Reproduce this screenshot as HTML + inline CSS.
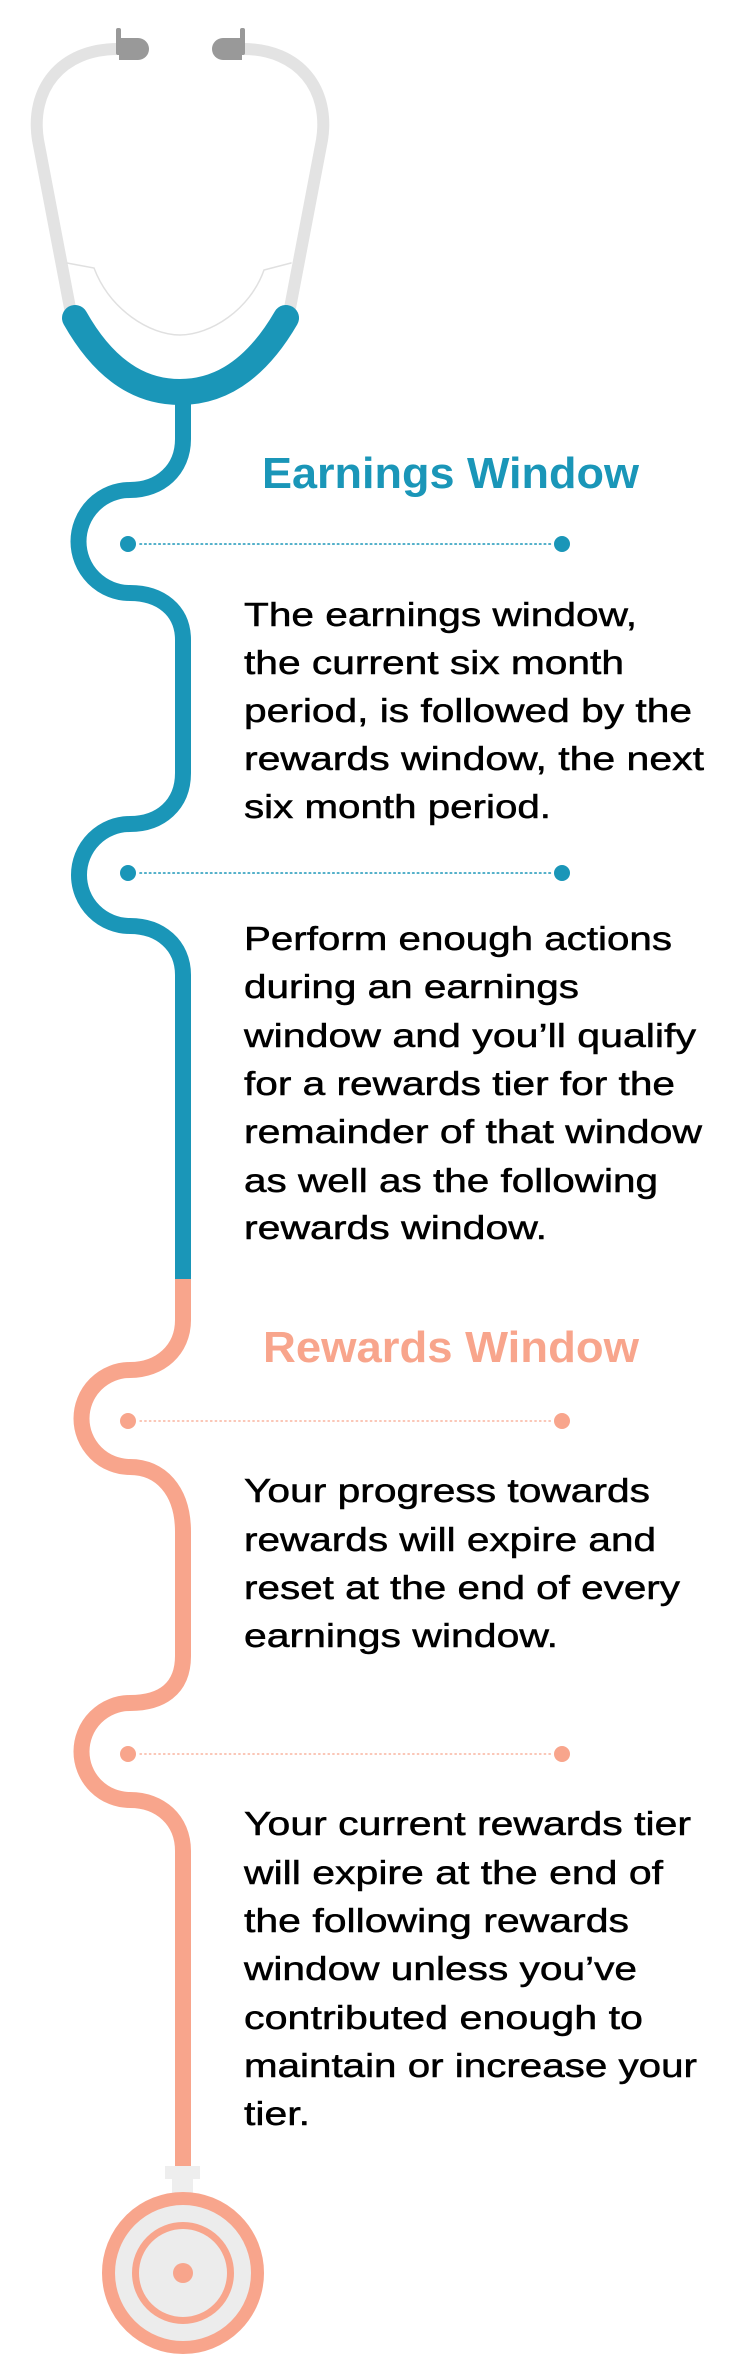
<!DOCTYPE html>
<html><head><meta charset="utf-8"><style>html,body{margin:0;padding:0;background:#fff}svg{display:block}</style></head>
<body>
<svg width="750" height="2380" viewBox="0 0 750 2380" xmlns="http://www.w3.org/2000/svg">
<g fill="none" stroke-linecap="round">
<path d="M118,49 C60,49 30,90 38,140 L70,308" stroke="#e3e3e3" stroke-width="12"/>
<path d="M243,49 C300,49 330,90 322,140 L290,308" stroke="#e3e3e3" stroke-width="12"/>
<path d="M67,263 L94,268 C110,310 150,335 180,335 C210,335 250,310 264,270 L291,263" stroke="#e0e0e0" stroke-width="1.5"/>
<path d="M75,318 C110,380 150,392 180,392 C210,392 250,380 286,318" stroke="#1a96b8" stroke-width="26"/>
<path d="M183,400 V439 C183,470 160,490 130,490 A51.5,51.5 0 0 0 130,593 C160,593 183,610 183,640 V773 C183,805 160,824 130,824 A51,51 0 0 0 130,926 C160,926 183,945 183,975 V1279" stroke="#1a96b8" stroke-width="16" stroke-linecap="butt"/>
<path d="M183,1279 V1320 C183,1350 160,1370 130,1370 A48.5,48.5 0 0 0 130,1467 C160,1467 183,1490 183,1532 V1656 C183,1690 160,1703 130,1703 A48.5,48.5 0 0 0 130,1800 C160,1800 183,1820 183,1851 V2170" stroke="#f8a58c" stroke-width="16" stroke-linecap="butt"/>
<line x1="140" y1="544" x2="552" y2="544" stroke="#1a96b8" stroke-width="1.6" stroke-dasharray="1.5 3.2"/>
<line x1="140" y1="873" x2="552" y2="873" stroke="#1a96b8" stroke-width="1.6" stroke-dasharray="1.5 3.2"/>
<line x1="140" y1="1421" x2="552" y2="1421" stroke="#f8a58c" stroke-width="1.2" stroke-dasharray="1.5 3.2"/>
<line x1="140" y1="1754" x2="552" y2="1754" stroke="#f8a58c" stroke-width="1.2" stroke-dasharray="1.5 3.2"/>
</g>
<g fill="#999">
<rect x="116" y="28" width="5" height="27" rx="2"/>
<path d="M119,38 H138 A11,11 0 0 1 138,60 H119 Z"/>
<rect x="240" y="28" width="5" height="27" rx="2"/>
<path d="M242,38 H223 A11,11 0 0 0 223,60 H242 Z"/>
</g>
<g fill="#1a96b8"><circle cx="128" cy="544" r="8"/><circle cx="562" cy="544" r="8"/><circle cx="128" cy="873" r="8"/><circle cx="562" cy="873" r="8"/></g>
<g fill="#f8a58c"><circle cx="128" cy="1421" r="8"/><circle cx="562" cy="1421" r="8"/><circle cx="128" cy="1754" r="8"/><circle cx="562" cy="1754" r="8"/></g>
<rect x="165" y="2166" width="35" height="13" fill="#eeeeee"/>
<rect x="172" y="2178" width="21" height="16" fill="#eeeeee"/>
<circle cx="183" cy="2273" r="74.5" fill="#ececec" stroke="#f8a58c" stroke-width="13"/>
<circle cx="183" cy="2273" r="47.5" fill="none" stroke="#f8a58c" stroke-width="7"/>
<circle cx="183" cy="2273" r="10" fill="#f8a58c"/>
<g font-family="Liberation Sans, sans-serif" font-weight="bold" font-size="44">
<text x="262" y="488" fill="#1a96b8" textLength="377" lengthAdjust="spacingAndGlyphs">Earnings Window</text>
<text x="263" y="1362" fill="#f8a58c" textLength="376" lengthAdjust="spacingAndGlyphs">Rewards Window</text>
</g>
<g font-family="Liberation Sans, sans-serif" font-size="33" fill="#000" stroke="#000" stroke-width="0.5">
<text x="244" y="626" textLength="393" lengthAdjust="spacingAndGlyphs">The earnings window,</text>
<text x="244" y="674" textLength="380" lengthAdjust="spacingAndGlyphs">the current six month</text>
<text x="244" y="722" textLength="448" lengthAdjust="spacingAndGlyphs">period, is followed by the</text>
<text x="244" y="770" textLength="460" lengthAdjust="spacingAndGlyphs">rewards window, the next</text>
<text x="244" y="818" textLength="307" lengthAdjust="spacingAndGlyphs">six month period.</text>

<text x="244" y="950" textLength="428" lengthAdjust="spacingAndGlyphs">Perform enough actions</text>
<text x="244" y="998" textLength="335" lengthAdjust="spacingAndGlyphs">during an earnings</text>
<text x="244" y="1047" textLength="452" lengthAdjust="spacingAndGlyphs">window and you’ll qualify</text>
<text x="244" y="1095" textLength="431" lengthAdjust="spacingAndGlyphs">for a rewards tier for the</text>
<text x="244" y="1143" textLength="458" lengthAdjust="spacingAndGlyphs">remainder of that window</text>
<text x="244" y="1192" textLength="414" lengthAdjust="spacingAndGlyphs">as well as the following</text>
<text x="244" y="1239" textLength="303" lengthAdjust="spacingAndGlyphs">rewards window.</text>

<text x="244" y="1502" textLength="406" lengthAdjust="spacingAndGlyphs">Your progress towards</text>
<text x="244" y="1551" textLength="412" lengthAdjust="spacingAndGlyphs">rewards will expire and</text>
<text x="244" y="1599" textLength="436" lengthAdjust="spacingAndGlyphs">reset at the end of every</text>
<text x="244" y="1647" textLength="314" lengthAdjust="spacingAndGlyphs">earnings window.</text>

<text x="244" y="1835" textLength="447" lengthAdjust="spacingAndGlyphs">Your current rewards tier</text>
<text x="244" y="1884" textLength="419" lengthAdjust="spacingAndGlyphs">will expire at the end of</text>
<text x="244" y="1932" textLength="385" lengthAdjust="spacingAndGlyphs">the following rewards</text>
<text x="244" y="1980" textLength="393" lengthAdjust="spacingAndGlyphs">window unless you’ve</text>
<text x="244" y="2029" textLength="399" lengthAdjust="spacingAndGlyphs">contributed enough to</text>
<text x="244" y="2077" textLength="453" lengthAdjust="spacingAndGlyphs">maintain or increase your</text>
<text x="244" y="2125" textLength="66" lengthAdjust="spacingAndGlyphs">tier.</text>
</g>
</svg>
</body></html>
